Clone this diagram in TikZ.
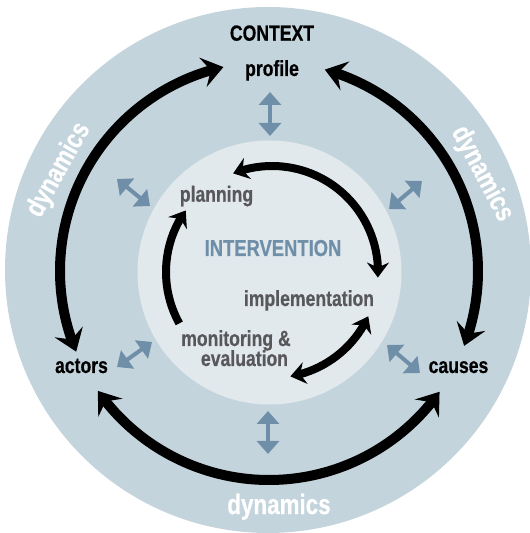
\documentclass[tikz,border=0pt]{standalone}
\usepackage{fontspec}
\newfontfamily\lab{Liberation Sans}[FakeStretch=0.8, BoldFeatures={FakeBold=0.5}]
\usetikzlibrary{arrows.meta,bending,calc}
\definecolor{outerc}{HTML}{C4D4DD}
\definecolor{innerc}{HTML}{E2E9ED}
\definecolor{steel}{HTML}{6F8FA8}
\definecolor{graytxt}{HTML}{58585A}
\tikzset{
  bighead/.tip={Stealth[length=21pt,width=30pt,inset=8pt]},
  midhead/.tip={Stealth[length=15pt,width=22pt,inset=5pt]},
  bluehead/.tip={Triangle[length=13pt,width=22pt]},
  bigarc/.style={line width=10pt, draw=black, bighead-bighead},
  cyclearc/.style={line width=8pt, draw=black},
  bluearrow/.style={line width=4pt, draw=steel, bluehead-bluehead},
  lbl/.style={font=\lab\bfseries\fontsize{22}{24}\selectfont, inner sep=0pt, anchor=base},
  dyn/.style={font=\lab\bfseries\fontsize{28}{30}\selectfont, inner sep=0pt, text=white},
}
\begin{document}
\begin{tikzpicture}[x=1pt,y=1pt]
\useasboundingbox (0,0) rectangle (530,533);
% circles
\coordinate (oc) at (268,263);
\coordinate (ic) at (269.5,260.5);
\fill[outerc] (oc) circle[radius=263];
\fill[innerc] (ic) circle[radius=132];
% outer arcs
\coordinate (ac) at (269,262);
\draw[bigarc] ($(ac)+(202.7:209)$) coordinate (tlA) arc[start angle=202.7, end angle=102.6, radius=209] coordinate (tlB);
\draw[bigarc] ($(ac)+(74.5:209)$) coordinate (trA) arc[start angle=74.5, end angle=-21, radius=209] coordinate (trB);
\draw[bigarc] ($(ac)+(215:209)$) coordinate (btA) arc[start angle=215, end angle=324.7, radius=209] coordinate (btB);
% inner cycle arcs
\coordinate (cc) at (272,261);
\draw[cyclearc, midhead-midhead] ($(cc)+(111.5:106)$) coordinate (cA) arc[start angle=111.5, end angle=-3, radius=106] coordinate (cB);
\draw[cyclearc, midhead-midhead] ($(cc)+(-24.7:106)$) coordinate (cC) arc[start angle=-24.7, end angle=-80, radius=106] coordinate (cD);
\draw[cyclearc, -midhead] ($(cc)+(209:106)$) coordinate (cE) arc[start angle=209, end angle=144.5, radius=106] coordinate (cF);
% blue double arrows
\coordinate (b1a) at (270,441); \coordinate (b1b) at (270,397);
\coordinate (b2a) at (268,122); \coordinate (b2b) at (268,79);
\coordinate (b3a) at (117,354); \coordinate (b3b) at (150,327);
\coordinate (b4a) at (422,352); \coordinate (b4b) at (389,324);
\coordinate (b5a) at (152,191); \coordinate (b5b) at (117,166);
\coordinate (b6a) at (387,188); \coordinate (b6b) at (420,160);
\draw[bluearrow] (b1a) -- (b1b);
\draw[bluearrow] (b2a) -- (b2b);
\draw[bluearrow] (b3a) -- (b3b);
\draw[bluearrow] (b4a) -- (b4b);
\draw[bluearrow] (b5a) -- (b5b);
\draw[bluearrow] (b6a) -- (b6b);
% labels
\node[lbl] (context) at (272,492.3) {CONTEXT};
\node[lbl] (profile) at (272,457) {profile};
\node[lbl] (actors) at (81.5,160) {actors};
\node[lbl] (causes) at (458.5,160) {causes};
\node[lbl, text=graytxt] (planning) at (216.5,331.3) {planning};
\node[lbl, text=steel, font=\lab\bfseries\fontsize{23}{25}\selectfont] (intervention) at (273,277) {INTERVENTION};
\node[lbl, text=graytxt] (implementation) at (309,227) {implementation};
\node[lbl, text=graytxt] (monitoring) at (236,187) {monitoring \&};
\node[lbl, text=graytxt] (evaluation) at (244.5,167) {evaluation};
\node[dyn, anchor=base] (dynB) at (279,19) {dynamics};
\node[dyn, rotate=61] (dynL) at (59,363) {dynamics};
\node[dyn, rotate=-62] (dynR) at (482,359) {dynamics};
\end{tikzpicture}
\end{document}
